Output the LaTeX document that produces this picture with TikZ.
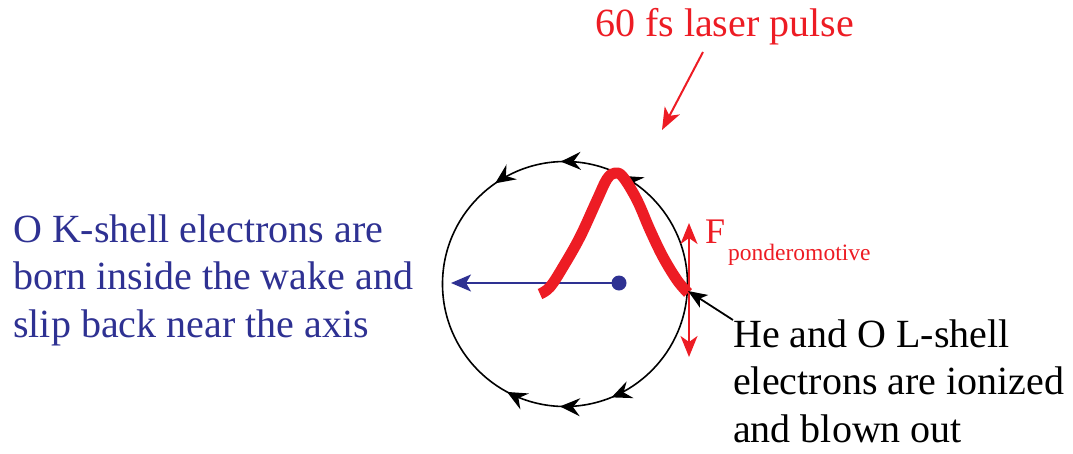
\documentclass[tikz,border=0pt]{standalone}
\usepackage{fontspec}
\setmainfont{Liberation Serif}
\usetikzlibrary{arrows.meta,decorations.markings}
\definecolor{pred}{HTML}{ED1C24}
\definecolor{pblue}{HTML}{2E3192}
\newcommand{\orbtip}{\arrow[line width=1.6pt]{Stealth[length=20pt,width=18pt,inset=7pt]}}
\begin{document}
\begin{tikzpicture}[x=1pt,y=1pt,
  bigtext/.style={font=\fontsize{40}{47.5}\selectfont, inner sep=0pt, align=left},
  orbit/.style={draw=black, line width=1.6pt, postaction={decorate}}]
\useasboundingbox (0,0) rectangle (1073,-453);
\coordinate (c) at (565,-284);
% circle with circulating arrowheads
\path[orbit, decoration={markings,
   mark=at position 0.344 with {\orbtip},
   mark=at position 0.511 with {\orbtip},
   mark=at position 0.693 with {\orbtip}}]
  (c) ++(0:122.5) arc[start angle=0, end angle=180, radius=122.5];
\path[orbit, decoration={markings,
   mark=at position 0.376 with {\orbtip},
   mark=at position 0.513 with {\orbtip},
   mark=at position 0.657 with {\orbtip}}]
  (c) ++(0:122.5) arc[start angle=360, end angle=180, radius=122.5];
% blue dot and arrow
\coordinate (dot) at (619,-283);
\coordinate (bend) at (451,-283);
\draw[pblue, line width=2pt, -{Stealth[length=20pt,width=17pt,inset=5pt]}] (dot) -- (bend);
\fill[pblue] (dot) circle (7.5);
% laser pulse
\draw[pred, line width=11pt, line join=round]
  plot[smooth, tension=0.6] coordinates {(540,-294) (550,-287) (563,-267) (580,-237) (597,-200) (607,-179) (615,-173) (623,-177) (637,-200) (650,-230) (663,-257) (677,-280) (688,-293)};
\coordinate (pend) at (688,-291);
% ponderomotive force arrow
\coordinate (ftop) at (689,-223);
\coordinate (fbot) at (689,-357);
\draw[pred, line width=2pt, {Stealth[length=21pt,width=17pt,inset=6pt]}-{Stealth[length=21pt,width=17pt,inset=6pt]}] (ftop) -- (fbot);
\node[pred, font=\fontsize{36}{40}\selectfont, inner sep=0pt, anchor=base west] (F) at (705,-243) {F};
\node[pred, font=\fontsize{23.5}{26}\selectfont, inner sep=0pt, anchor=base west] (Fsub) at (728,-260) {ponderomotive};
% laser pulse label
\node[pred, bigtext, anchor=base west] (laser) at (595,-36) {60 fs laser pulse};
\coordinate (ltip) at (662,-130);
\coordinate (ltail) at (703,-52);
\draw[pred, line width=2pt, -{Stealth[length=22pt,width=17pt,inset=6pt]}] (ltail) -- (ltip);
% left text (base anchor = last line baseline)
\node[pblue, bigtext, anchor=base west] (ktext) at (13,-337) {O K-shell electrons are\\born inside the wake and\\slip back near the axis};
% right text
\node[bigtext, anchor=base west] (ltext) at (733,-442) {He and O L-shell\\electrons are ionized\\and blown out};
\coordinate (btail) at (733,-320);
\draw[black, line width=1.8pt, -{Stealth[length=19pt,width=15pt,inset=5pt]}] (btail) -- (pend);
\end{tikzpicture}
\end{document}
